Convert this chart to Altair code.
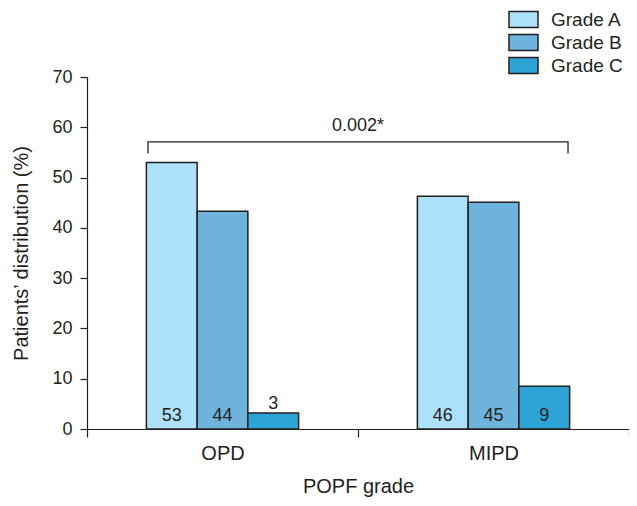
import altair as alt
import pandas as pd

# ---- data ----
groups = ["OPD", "MIPD"]
grades = ["Grade A", "Grade B", "Grade C"]
opd_values = [53.0, 43.3, 3.2]
mipd_values = [46.3, 45.1, 8.5]
opd_labels = ["53", "44", "3"]
mipd_labels = ["46", "45", "9"]
grade_colors = ["#ade0f9", "#6db3dc", "#2ea3d6"]

p_value_text = "0.002*"
p_value_x = [1.0]          # in group units (0..2 across the x range)
p_value_y = [57.1]
bracket_x = [0.225, 0.225, 1.775, 1.775]   # in group units
bracket_y = [54.8, 57.1, 57.1, 54.8]
bracket_order = [0, 1, 2, 3]

INK = "#231f20"
FONT = "Liberation Sans"

rows = []
for g, vals, labs in [("OPD", opd_values, opd_labels), ("MIPD", mipd_values, mipd_labels)]:
    for gr, v, lab in zip(grades, vals, labs):
        rows.append({"group": g, "grade": gr, "value": v, "label": lab})
df = pd.DataFrame(rows)

bracket_df = pd.DataFrame({"bx": bracket_x, "by": bracket_y, "o": bracket_order})
pv_df = pd.DataFrame({"px": p_value_x, "py": p_value_y, "t": [p_value_text]})

# empty slots on both sides of each group's bars (spacing within a group)
offset_domain = ["_l"] + grades + ["_r"]

x_enc = alt.X(
    "group:N",
    sort=groups,
    scale=alt.Scale(paddingInner=0, paddingOuter=0),
    axis=alt.Axis(
        title="POPF grade",
        labelAngle=0,
        tickBand="extent",
        tickSize=8,
        labelPadding=6,
        labelFontSize=20,
        titleFontSize=20,
        titlePadding=13,
    ),
)
xoff_enc = alt.XOffset(
    "grade:N",
    scale=alt.Scale(domain=offset_domain, paddingInner=0, paddingOuter=0.17),
)
y_enc = alt.Y(
    "value:Q",
    scale=alt.Scale(domain=[0, 70], nice=False),
    axis=alt.Axis(
        title="Patients’ distribution (%)",
        values=list(range(0, 71, 10)),
        tickSize=7,
        labelPadding=8,
        labelFontSize=18,
        titleFontSize=20,
        titlePadding=20,
    ),
)

symbol_path = "M-1.349,-0.744L1.349,-0.744L1.349,0.744L-1.349,0.744Z"

bars = alt.Chart(df).mark_bar(stroke=INK, strokeWidth=1.5).encode(
    x=x_enc,
    xOffset=xoff_enc,
    y=y_enc,
    fill=alt.Fill(
        "grade:N",
        sort=grades,
        scale=alt.Scale(domain=grades, range=grade_colors),
        legend=alt.Legend(
            title=None,
            orient="none",
            legendX=425,
            legendY=-69,
            symbolType=symbol_path,
            symbolSize=462,
            symbolStrokeColor=INK,
            symbolStrokeWidth=1.5,
            symbolOpacity=1,
            labelFontSize=19,
            labelOffset=16,
            labelColor=INK,
            labelFont=FONT,
            rowPadding=-0.5,
            padding=0,
        ),
    ),
)

labels_in = alt.Chart(df).transform_filter("datum.value > 5").mark_text(
    baseline="alphabetic", dy=-8.5, fontSize=18, color=INK, font=FONT
).encode(x=x_enc, xOffset=xoff_enc, y=alt.datum(0), text="label:N")

labels_out = alt.Chart(df).transform_filter("datum.value <= 5").mark_text(
    baseline="alphabetic", dy=-4, fontSize=18, color=INK, font=FONT
).encode(x=x_enc, xOffset=xoff_enc, y=y_enc, text="label:N")

main = alt.layer(bars, labels_in, labels_out)

bx_scale = alt.Scale(domain=[0, 2], nice=False, zero=False)

bracket = alt.Chart(bracket_df).mark_line(
    color=INK, strokeWidth=1.3, strokeJoin="miter", strokeCap="butt"
).encode(
    x=alt.X("bx:Q", scale=bx_scale, axis=None),
    y=alt.Y("by:Q"),
    order="o:Q",
)

pv = alt.Chart(pv_df).mark_text(
    baseline="alphabetic", dy=-11, fontSize=18, color=INK, font=FONT
).encode(
    x=alt.X("px:Q", scale=bx_scale, axis=None),
    y=alt.Y("py:Q"),
    text="t:N",
)

chart = (
    alt.layer(main, bracket, pv)
    .resolve_scale(x="independent")
    .properties(
        width=542,
        height=352,
        autosize=alt.AutoSizeParams(type="none"),
        padding={"left": 79, "top": 69, "right": 0, "bottom": 69},
    )
    .configure_view(stroke=None)
    .configure_axis(
        domainColor=INK,
        tickColor=INK,
        domainWidth=1.2,
        tickWidth=1.2,
        labelColor=INK,
        titleColor=INK,
        labelFont=FONT,
        titleFont=FONT,
        titleFontWeight="normal",
        grid=False,
    )
    .configure_text(font=FONT)
)

chart.save("out.html", embed_options={"renderer": "svg", "actions": False})
